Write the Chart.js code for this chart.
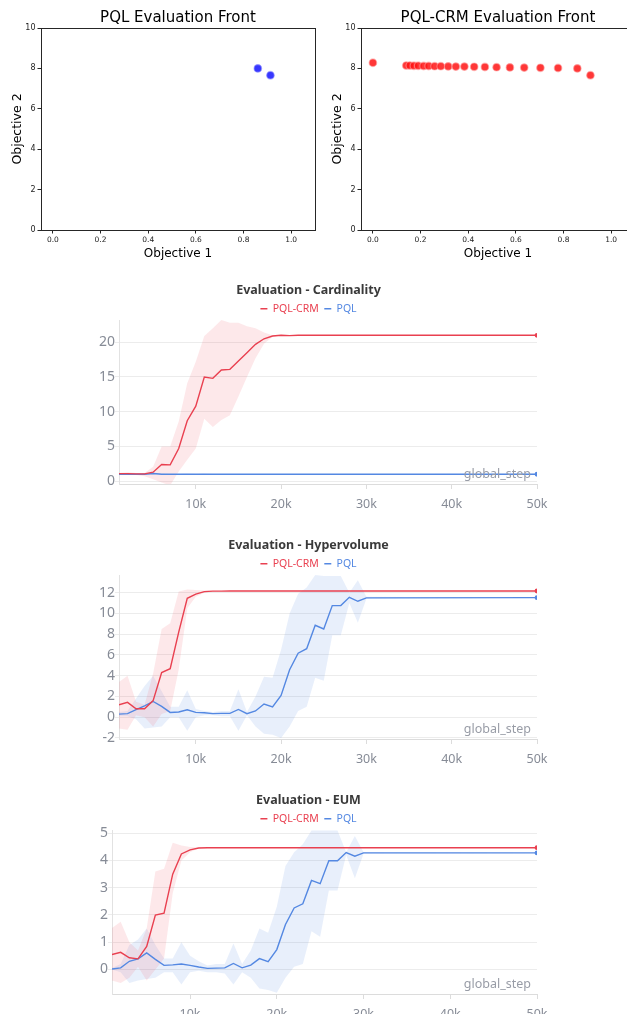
<!DOCTYPE html>
<html>
<head>
<meta charset="utf-8">
<script src="https://cdn.jsdelivr.net/npm/chart.js@4.4.1/dist/chart.umd.min.js"></script>
<style>
  html, body { margin: 0; padding: 0; background: #fff; overflow: hidden; }
  body { width: 627px; height: 1014px; position: relative; }
  canvas { position: absolute; }
  #frontPql { left: 0; top: 0; }
  #frontCrm { left: 320px; top: 0; }
  #cardChart { left: 20px; top: 276px; }
  #hvChart { left: 20px; top: 531px; }
  #eumChart { left: 20px; top: 786px; }
</style>
</head>
<body>
<canvas id="frontPql" width="320" height="265"></canvas>
<canvas id="frontCrm" width="320" height="265"></canvas>
<canvas id="cardChart" width="606" height="236"></canvas>
<canvas id="hvChart" width="606" height="236"></canvas>
<canvas id="eumChart" width="606" height="236"></canvas>
<script>
// evaluation fronts (objective 1, objective 2)
const pqlFrontX = [0.86, 0.913];
const pqlFrontY = [8.0, 7.66];
const crmFrontX = [0.0, 0.14, 0.155, 0.172, 0.19, 0.213, 0.234, 0.259, 0.285, 0.316, 0.348,
  0.384, 0.425, 0.47, 0.519, 0.575, 0.635, 0.703, 0.777, 0.858, 0.913];
const crmFrontY = [8.28, 8.14, 8.14, 8.13, 8.13, 8.12, 8.12, 8.11, 8.11, 8.10, 8.09,
  8.09, 8.08, 8.07, 8.06, 8.05, 8.04, 8.03, 8.02, 8.0, 7.66];
const frontTicksX = [0, 0.2, 0.4, 0.6, 0.8, 1.0];
const frontTicksY = [0, 2, 4, 6, 8, 10];

// training curves, logged at global_step
const steps = [1000, 2000, 3000, 4000, 5000, 6000, 7000, 8000, 9000, 10000,
  11000, 12000, 13000, 14000, 15000, 16000, 17000, 18000, 19000, 20000,
  21000, 22000, 23000, 24000, 25000, 26000, 27000, 28000, 29000, 30000, 50000];
const stepTicks = [10000, 20000, 30000, 40000, 50000];

const cardCrm = [1.1, 1.1, 1.05, 1.05, 1.3, 2.4, 2.35, 4.7, 8.7, 10.8, 15.0, 14.8, 16.0, 16.1, 17.3, 18.5,
  19.7, 20.5, 20.9, 21, 20.95, 21, 21, 21, 21, 21, 21, 21, 21, 21, 21];
const cardCrmHi = [1.2, 1.3, 1.2, 1.2, 2.1, 5.0, 5.0, 8.6, 14.1, 17.2, 20.9, 22.0, 23.2, 22.8, 22.8, 22.3,
  22.0, 21.4, 21.0, 21, 21, 21, 21, 21, 21, 21, 21, 21, 21, 21, 21];
const cardCrmLo = [0.9, 0.9, 0.9, 0.7, 0.3, -0.2, -0.6, 1.4, 3.1, 4.7, 9.0, 7.8, 8.8, 9.5, 12.2, 15.0,
  17.7, 19.8, 20.8, 21, 20.9, 21, 21, 21, 21, 21, 21, 21, 21, 21, 21];
const cardPql = [1, 1, 1, 1, 1.1, 1, 1, 1, 1, 1, 1.02, 1, 1, 1, 1, 1,
  1, 1, 1, 1, 1, 1, 1, 1, 1, 1, 1, 1, 1, 1, 1];
const cardPqlHi = [1.1, 1.1, 1.1, 1.15, 1.25, 1.1, 1.05, 1.05, 1.1, 1.05, 1.1, 1.05, 1.0, 1.0, 1.0, 1.0,
  1, 1, 1, 1, 1, 1, 1, 1, 1, 1, 1, 1, 1, 1, 1.1];
const cardPqlLo = [0.9, 0.9, 0.9, 0.9, 0.95, 0.95, 0.95, 0.95, 0.95, 0.95, 1, 1, 1, 1, 1, 1,
  1, 1, 1, 1, 1, 1, 1, 1, 1, 1, 1, 1, 1, 1, 1];

const hvCrm = [1.2, 1.43, 0.82, 0.82, 1.6, 4.3, 4.67, 8.2, 11.45, 11.85, 12.1, 12.15, 12.15, 12.16, 12.16, 12.16,
  12.16, 12.16, 12.16, 12.16, 12.16, 12.16, 12.16, 12.16, 12.16, 12.16, 12.16, 12.16, 12.16, 12.16, 12.16];
const hvCrmHi = [3.4, 4.0, 1.5, 1.2, 4.2, 8.5, 9.05, 12.1, 12.3, 12.25, 12.2, 12.16, 12.16, 12.16, 12.16, 12.16,
  12.16, 12.16, 12.16, 12.16, 12.16, 12.16, 12.16, 12.16, 12.16, 12.16, 12.16, 12.16, 12.16, 12.16, 12.16];
const hvCrmLo = [-1.1, -1.2, 0.2, 0.0, -0.9, 0.3, 0.6, 4.6, 10.5, 11.6, 12.0, 12.1, 12.16, 12.16, 12.16, 12.16,
  12.16, 12.16, 12.16, 12.16, 12.16, 12.16, 12.16, 12.16, 12.16, 12.16, 12.16, 12.16, 12.16, 12.16, 12.16];
const hvPql = [0.3, 0.34, 0.72, 1.1, 1.52, 1.04, 0.46, 0.5, 0.72, 0.46, 0.43, 0.34, 0.37, 0.37, 0.75, 0.34,
  0.6, 1.27, 1.0, 2.1, 4.57, 6.17, 6.6, 8.86, 8.5, 10.75, 10.75, 11.55, 11.17, 11.5, 11.52];
const hvPqlHi = [0.5, 0.6, 1.8, 3.0, 4.0, 2.5, 1.0, 1.0, 2.6, 0.8, 0.6, 0.5, 0.6, 0.6, 2.7, 0.5,
  2.0, 3.9, 3.8, 6.5, 10.0, 11.9, 12.5, 13.7, 13.6, 13.6, 13.6, 12.0, 13.2, 11.6, 11.52];
const hvPqlLo = [0.1, 0.1, -0.2, -1.1, -1.0, -0.9, 0.0, 0.0, -1.3, 0.0, 0.2, 0.2, 0.1, 0.1, -1.3, 0.2,
  -0.9, -1.6, -1.7, -2.0, -0.9, 0.6, 1.0, 3.8, 3.5, 7.9, 7.9, 11.0, 9.1, 11.4, 11.52];

const eumCrm = [0.55, 0.63, 0.43, 0.39, 0.85, 2.0, 2.07, 3.5, 4.24, 4.39, 4.46, 4.47, 4.47, 4.47, 4.47, 4.47,
  4.47, 4.47, 4.47, 4.47, 4.47, 4.47, 4.47, 4.47, 4.47, 4.47, 4.47, 4.47, 4.47, 4.47, 4.47];
const eumCrmHi = [1.52, 1.75, 1.0, 0.7, 1.5, 3.6, 3.7, 4.65, 4.55, 4.5, 4.48, 4.47, 4.47, 4.47, 4.47, 4.47,
  4.47, 4.47, 4.47, 4.47, 4.47, 4.47, 4.47, 4.47, 4.47, 4.47, 4.47, 4.47, 4.47, 4.47, 4.47];
const eumCrmLo = [-0.4, -0.5, -0.3, 0.1, -0.4, 0.0, 0.4, 2.8, 4.0, 4.3, 4.45, 4.47, 4.47, 4.47, 4.47, 4.47,
  4.47, 4.47, 4.47, 4.47, 4.47, 4.47, 4.47, 4.47, 4.47, 4.47, 4.47, 4.47, 4.47, 4.47, 4.47];
const eumPql = [0.02, 0.06, 0.3, 0.39, 0.61, 0.37, 0.15, 0.17, 0.2, 0.15, 0.09, 0.04, 0.05, 0.06, 0.22, 0.06,
  0.16, 0.4, 0.29, 0.73, 1.65, 2.26, 2.41, 3.27, 3.15, 3.99, 3.99, 4.29, 4.16, 4.28, 4.28];
const eumPqlHi = [0.05, 0.2, 0.9, 1.1, 1.5, 0.9, 0.4, 0.4, 1.0, 0.5, 0.3, 0.15, 0.2, 0.2, 0.95, 0.2,
  0.7, 1.5, 1.35, 2.3, 3.8, 4.3, 4.6, 5.1, 5.1, 5.1, 5.1, 4.3, 4.9, 4.3, 4.28];
const eumPqlLo = [0.0, -0.1, -0.5, -0.4, -0.35, -0.3, -0.1, -0.1, -0.55, -0.1, -0.05, -0.1, -0.1, -0.15, -0.55, -0.1,
  -0.3, -0.7, -0.75, -0.85, -0.3, 0.1, 0.2, 1.4, 1.2, 2.9, 2.9, 4.2, 3.35, 4.25, 4.28];

const RED = 'rgb(233, 64, 80)';
const BLUE = 'rgb(84, 136, 226)';
const RED_BAND = 'rgba(240, 90, 105, 0.14)';
const BLUE_BAND = 'rgba(90, 145, 230, 0.14)';

// --- matplotlib-like front plots ---
const frameBox = {
  id: 'frameBox',
  afterDraw(chart) {
    const { ctx, chartArea: a } = chart;
    ctx.save();
    ctx.strokeStyle = '#262626';
    ctx.lineWidth = 1;
    ctx.strokeRect(Math.round(a.left) + 0.5, Math.round(a.top) + 0.5,
      Math.round(a.right - a.left), Math.round(a.bottom - a.top));
    ctx.restore();
  }
};

function frontChart(id, title, xs, ys, fill, edge) {
  const pts = xs.map((x, i) => ({ x: x, y: ys[i] }));
  const dejavu = 'DejaVu Sans';
  new Chart(document.getElementById(id), {
    type: 'scatter',
    data: {
      datasets: [{
        data: pts,
        backgroundColor: fill,
        borderColor: edge,
        borderWidth: 1.2,
        pointRadius: 3.8,
        pointHoverRadius: 3.8
      }]
    },
    options: {
      responsive: false,
      animation: false,
      layout: { padding: { left: 6, right: 5, top: 0, bottom: 0 } },
      plugins: {
        legend: { display: false },
        tooltip: { enabled: false },
        title: {
          display: true, text: title, color: '#000',
          font: { family: dejavu, size: 15, weight: 'normal' },
          padding: { top: 9, bottom: 1 },
          fullSize: false
        }
      },
      scales: {
        x: {
          type: 'linear', min: -0.05, max: 1.1,
          afterBuildTicks: s => { s.ticks = frontTicksX.map(v => ({ value: v })); },
          afterFit: s => { s.height = 35; },
          grid: { drawOnChartArea: false, drawTicks: true, tickLength: 3.5, color: '#262626' },
          border: { display: true, color: '#262626' },
          ticks: { color: '#222', padding: 2, maxRotation: 0, font: { family: dejavu, size: 7.5 },
            callback: v => v.toFixed(1) },
          title: { display: true, text: 'Objective 1', color: '#000',
            font: { family: dejavu, size: 12 }, padding: { top: 0, bottom: 4 } }
        },
        y: {
          type: 'linear', min: 0, max: 10,
          afterBuildTicks: s => { s.ticks = frontTicksY.map(v => ({ value: v })); },
          afterFit: s => { s.width = 35; },
          grid: { drawOnChartArea: false, drawTicks: true, tickLength: 3.5, color: '#262626' },
          border: { display: true, color: '#262626' },
          ticks: { color: '#222', padding: 2, font: { family: dejavu, size: 8 } },
          title: { display: true, text: 'Objective 2', color: '#000',
            font: { family: dejavu, size: 12.5 }, padding: { top: 4, bottom: 0 } }
        }
      }
    },
    plugins: [frameBox]
  });
}

frontChart('frontPql', 'PQL Evaluation Front', pqlFrontX, pqlFrontY,
  'rgba(20, 20, 255, 0.85)', 'rgba(150, 150, 255, 0.6)');
frontChart('frontCrm', 'PQL-CRM Evaluation Front', crmFrontX, crmFrontY,
  'rgba(255, 20, 20, 0.85)', 'rgba(255, 160, 160, 0.6)');

// --- wandb-like line panels ---
const stepLabel = {
  id: 'stepLabel',
  afterDatasetsDraw(chart) {
    const { ctx, chartArea } = chart;
    ctx.save();
    ctx.font = '12.5px "Noto Sans"';
    ctx.fillStyle = '#989ca6';
    ctx.textAlign = 'right';
    ctx.textBaseline = 'alphabetic';
    ctx.fillText('global_step', chartArea.right - 6, chartArea.bottom - 6);
    ctx.restore();
  }
};

function toPts(vals) {
  return vals.map((v, i) => ({ x: steps[i], y: v }));
}

function band(hi, lo, color) {
  return [
    { label: '', data: toPts(hi), borderWidth: 0, pointRadius: 0, backgroundColor: color,
      fill: '+1', order: 10, tension: 0 },
    { label: '', data: toPts(lo), borderWidth: 0, pointRadius: 0, backgroundColor: color,
      fill: false, order: 10, tension: 0 }
  ];
}

function line(name, vals, color, order) {
  const last = vals.length - 1;
  return {
    label: name, data: toPts(vals), borderColor: color, backgroundColor: color,
    borderWidth: 1.4, fill: false, tension: 0, order: order,
    pointRadius: c => (c.dataIndex === last ? 2.4 : 0),
    pointBorderWidth: 0
  };
}

function stepChart(id, title, series, yMin, yMax, yTicks, yWidth) {
  const font = 'Noto Sans';
  new Chart(document.getElementById(id), {
    type: 'line',
    data: {
      datasets: [
        ...band(series.crmHi, series.crmLo, RED_BAND),
        ...band(series.pqlHi, series.pqlLo, BLUE_BAND),
        line('PQL-CRM', series.crm, RED, 1),
        line('PQL', series.pql, BLUE, 2)
      ]
    },
    options: {
      responsive: false,
      animation: false,
      layout: { padding: { left: 60, right: 89, top: 0, bottom: 0 } },
      plugins: {
        tooltip: { enabled: false },
        title: {
          display: true, text: title, color: '#3a3a3a',
          font: { family: font, size: 12.5, weight: 'bold' },
          padding: { top: 7, bottom: 0 }
        },
        legend: {
          display: true,
          maxHeight: 22,
          labels: {
            boxWidth: 7, boxHeight: 1.5, padding: 5.5,
            font: { family: font, size: 10.5 },
            filter: item => item.text !== '',
            generateLabels(chart) {
              const items = Chart.defaults.plugins.legend.labels.generateLabels(chart);
              items.forEach(it => { it.fontColor = it.strokeStyle; it.fillStyle = it.strokeStyle; it.lineWidth = 0; });
              return items;
            }
          }
        }
      },
      scales: {
        x: {
          type: 'linear', min: 1000, max: 50000,
          afterBuildTicks: s => { s.ticks = stepTicks.map(v => ({ value: v })); },
          afterFit: s => { s.height = 28; },
          grid: { drawOnChartArea: false, drawTicks: true, tickLength: 5, color: '#dcdcdc' },
          border: { display: true, color: '#dcdcdc' },
          ticks: { color: '#868b96', padding: 8, maxRotation: 0, font: { family: font, size: 12.5 },
            callback: v => (v / 1000) + 'k' }
        },
        y: {
          type: 'linear', min: yMin, max: yMax,
          afterBuildTicks: s => { s.ticks = yTicks.map(v => ({ value: v })); },
          afterFit: s => { s.width = yWidth; },
          grid: { color: '#ececec', drawTicks: true, tickLength: 4 },
          border: { display: true, color: '#e2e2e2' },
          ticks: { color: '#868b96', padding: 0, font: { family: font, size: 14 } }
        }
      }
    },
    plugins: [stepLabel]
  });
}

stepChart('cardChart', 'Evaluation - Cardinality',
  { crm: cardCrm, crmHi: cardCrmHi, crmLo: cardCrmLo, pql: cardPql, pqlHi: cardPqlHi, pqlLo: cardPqlLo },
  -0.4, 23.2, [0, 5, 10, 15, 20], 39);
stepChart('hvChart', 'Evaluation - Hypervolume',
  { crm: hvCrm, crmHi: hvCrmHi, crmLo: hvCrmLo, pql: hvPql, pqlHi: hvPqlHi, pqlLo: hvPqlLo },
  -2.1, 13.7, [-2, 0, 2, 4, 6, 8, 10, 12], 39);
stepChart('eumChart', 'Evaluation - EUM',
  { crm: eumCrm, crmHi: eumCrmHi, crmLo: eumCrmLo, pql: eumPql, pqlHi: eumPqlHi, pqlLo: eumPqlLo },
  -0.9, 5.12, [0, 1, 2, 3, 4, 5], 32);
</script>
</body>
</html>
